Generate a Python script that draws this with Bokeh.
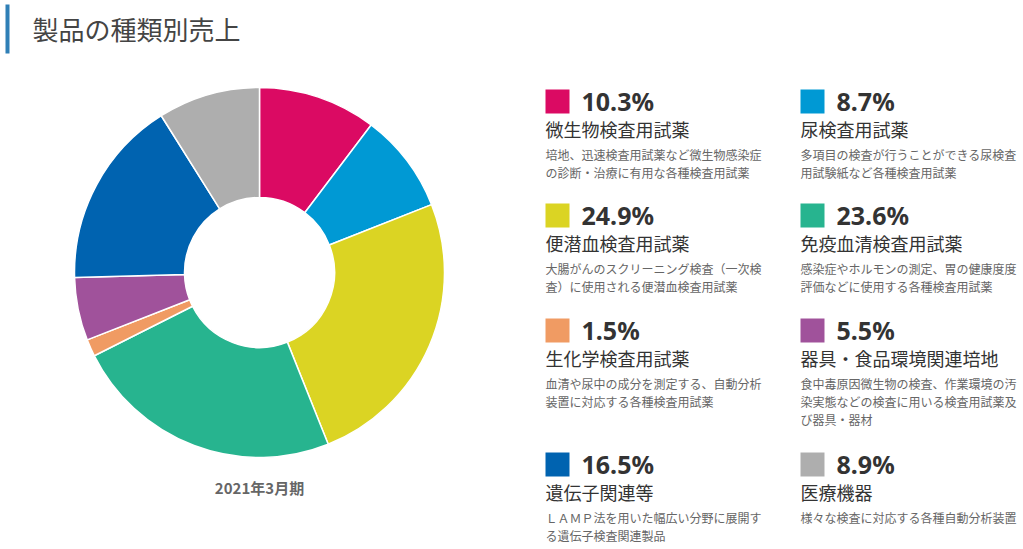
import math
from bokeh.plotting import figure
from bokeh.models import Range1d, ColumnDataSource
from bokeh.core.properties import value
from bokeh.embed import file_html
from bokeh.resources import INLINE

# ---- data ----
title = "製品の種類別売上"
period_label = "2021年3月期"
categories = ["微生物検査用試薬", "尿検査用試薬", "便潜血検査用試薬", "免疫血清検査用試薬",
              "生化学検査用試薬", "器具・食品環境関連培地", "遺伝子関連等", "医療機器"]
shares = [10.3, 8.7, 24.9, 23.6, 1.5, 5.5, 16.5, 8.9]
colors = ["#DB0A63", "#0099D4", "#DBD423", "#27B48F", "#F09B63", "#A0529B", "#0063B0", "#AEAEAE"]
descriptions = [
    ["培地、迅速検査用試薬など微生物感染症", "の診断・治療に有用な各種検査用試薬"],
    ["多項目の検査が行うことができる尿検査", "用試験紙など各種検査用試薬"],
    ["大腸がんのスクリーニング検査（一次検", "査）に使用される便潜血検査用試薬"],
    ["感染症やホルモンの測定、胃の健康度度", "評価などに使用する各種検査用試薬"],
    ["血清や尿中の成分を測定する、自動分析", "装置に対応する各種検査用試薬"],
    ["食中毒原因微生物の検査、作業環境の汚", "染実態などの検査に用いる検査用試薬及", "び器具・器材"],
    ["ＬＡＭＰ法を用いた幅広い分野に展開す", "る遺伝子検査関連製品"],
    ["様々な検査に対応する各種自動分析装置"],
]

# ---- layout (screen pixels; page has no margin) ----
W, H = 1023, 549
JP = value("Noto Sans CJK JP")


def X(ix):
    return ix


def Y(iy):
    return H - iy


p = figure(width=W, height=H, x_range=Range1d(0, W), y_range=Range1d(0, H),
           x_axis_type=None, y_axis_type=None, toolbar_location=None,
           output_backend="svg", min_border=0)
p.grid.visible = False
p.outline_line_color = None
p.background_fill_color = "white"

# title bar and title
p.quad(left=[X(5)], right=[X(9)], top=[Y(4)], bottom=[Y(53)], fill_color="#2F7FB6", line_color=None)
p.text(x=[X(32)], y=[Y(28)], text=[title], text_font=JP, text_font_size="26px",
       text_color="#444444", text_baseline="middle", text_align="left")

# donut
total = sum(shares)
starts, ends = [], []
acc = 0.0
for s in shares:
    a0 = acc / total
    acc += s
    a1 = acc / total
    # clockwise from 12 o'clock
    starts.append(math.pi / 2 - 2 * math.pi * a1)
    ends.append(math.pi / 2 - 2 * math.pi * a0)
src = ColumnDataSource(dict(start=starts, end=ends, color=colors))
cx, cy = X(259), Y(272)
p.annular_wedge(x=cx, y=cy, inner_radius=75, outer_radius=185,
                start_angle="start", end_angle="end", fill_color="color",
                line_color="white", line_width=1.5, source=src)

p.text(x=[cx], y=[Y(487)], text=[period_label], text_font=JP, text_font_size="15px",
       text_color="#666666", text_baseline="middle", text_align="center", text_font_style="bold")

# legend
col_x = [545, 800]
row_top = [89, 203, 318, 452]
for i, (cat, sh, col, desc) in enumerate(zip(categories, shares, colors, descriptions)):
    lx = col_x[i % 2]
    ty = row_top[i // 2]
    p.quad(left=[X(lx)], right=[X(lx + 24)], top=[Y(ty)], bottom=[Y(ty + 24)],
           fill_color=col, line_color=None)
    p.text(x=[X(lx + 36)], y=[Y(ty + 11)], text=[f"{sh}%"], text_font=value("Noto Sans"),
           text_font_size="25px", text_font_style="bold", text_color="#333333",
           text_baseline="middle", text_align="left")
    p.text(x=[X(lx)], y=[Y(ty + 39)], text=[cat], text_font=JP, text_font_size="18px",
           text_color="#333333", text_baseline="middle", text_align="left")
    for k, line in enumerate(desc):
        p.text(x=[X(lx)], y=[Y(ty + 64.5 + 18 * k)], text=[line], text_font=JP,
               text_font_size="12px", text_color="#666666", text_baseline="middle",
               text_align="left")

open("out.html", "w").write(file_html(p, INLINE))
